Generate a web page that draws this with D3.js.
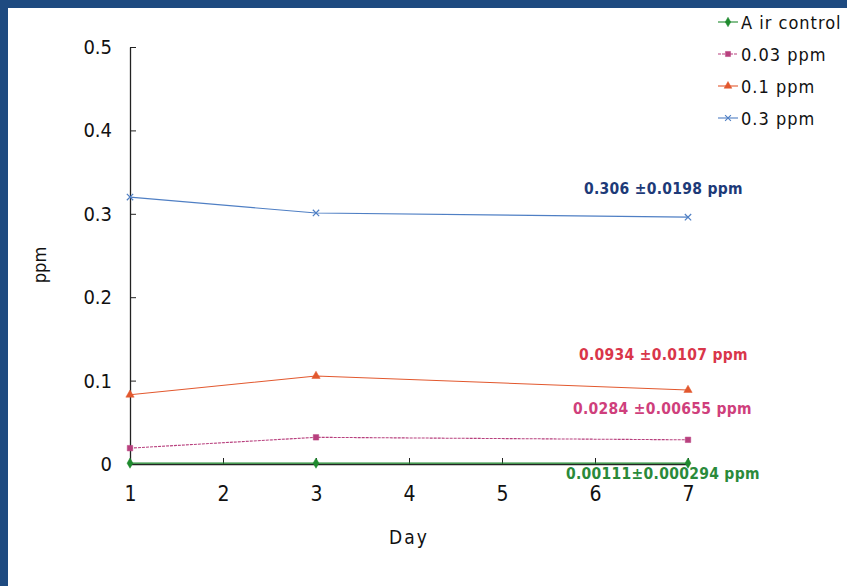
<!DOCTYPE html>
<html>
<head>
<meta charset="utf-8">
<script src="https://cdn.jsdelivr.net/npm/d3@7"></script>
<style>
  body { margin: 0; background: #ffffff; }
  svg { display: block; }
</style>
</head>
<body>
<div id="chart"></div>
<script>
var W = 847, H = 586;

// data
var days = [1, 3, 7];
var airControl = [0.001, 0.001, 0.001];
var ppm003 = [0.019, 0.032, 0.029];
var ppm01 = [0.083, 0.1055, 0.0887];
var ppm03 = [0.320, 0.301, 0.296];
var seriesNames = ["A ir control", "0.03 ppm", "0.1 ppm", "0.3 ppm"];
var xTicks = [1, 2, 3, 4, 5, 6, 7];
var yTicks = [0, 0.1, 0.2, 0.3, 0.4, 0.5];
var notes = ["0.00111\u00b10.000294 ppm", "0.0284 \u00b10.00655 ppm", "0.0934 \u00b10.0107 ppm", "0.306 \u00b10.0198 ppm"];

var colors = ["#1f8a2e", "#b8407e", "#e2582e", "#4f7fc4"];
var noteColors = ["#2a8a3a", "#cf3f7c", "#d9364a", "#1d3a78"];
var noteXY = [[566, 479], [573, 414], [579, 360], [584, 194]];
var markers = [d3.symbolDiamond, d3.symbolSquare, d3.symbolTriangle, d3.symbolTimes];

var margin = { top: 47, left: 130 },
    width = 688 - 130,
    height = 464 - 47;

var svg = d3.select("#chart")
    .append("svg")
    .attr("width", W)
    .attr("height", H);

// blue scanned frame on top and left
svg.append("rect").attr("x", 0).attr("y", 0).attr("width", W).attr("height", 8).attr("fill", "#1e4a80");
svg.append("rect").attr("x", 0).attr("y", 0).attr("width", 8).attr("height", H).attr("fill", "#1e4a80");

var g = svg.append("g")
    .attr("transform", "translate(" + margin.left + "," + margin.top + ")");

var x = d3.scaleLinear().domain([1, 7]).range([0, width]);
var y = d3.scaleLinear().domain([0, 0.5]).range([height, 0]);

var font = "'DejaVu Sans Condensed', sans-serif";

// X axis
var xAxis = g.append("g")
    .attr("transform", "translate(0," + height + ")")
    .call(d3.axisBottom(x).tickValues(xTicks).tickSizeInner(-6).tickSizeOuter(0).tickPadding(22)
        .tickFormat(d3.format("d")));
xAxis.select(".domain").attr("stroke", "#222").attr("stroke-width", 1.3);
xAxis.selectAll("line").attr("stroke", "#222");
xAxis.selectAll("text").attr("font-family", font).attr("font-size", 21).attr("fill", "#111");

// Y axis
var yAxis = g.append("g")
    .call(d3.axisLeft(y).tickValues(yTicks).tickSizeInner(-6).tickSizeOuter(0).tickPadding(18)
        .tickFormat(function (d) { return d === 0 ? "0" : d3.format(".1f")(d); }));
yAxis.select(".domain").attr("stroke", "#222").attr("stroke-width", 1.3);
yAxis.selectAll("line").attr("stroke", "#222");
yAxis.selectAll("text").attr("font-family", font).attr("font-size", 20).attr("fill", "#111");

// axis titles
svg.append("text")
    .attr("x", 409).attr("y", 544)
    .attr("text-anchor", "middle")
    .attr("font-family", font).attr("font-size", 19).attr("letter-spacing", 2).attr("fill", "#111")
    .text("Day");
svg.append("text")
    .attr("transform", "translate(46,265) rotate(-90)")
    .attr("text-anchor", "middle")
    .attr("font-family", font).attr("font-size", 18).attr("fill", "#111")
    .text("ppm");

var allSeries = [airControl, ppm003, ppm01, ppm03];

var line = d3.line()
    .x(function (d, i) { return x(days[i]); })
    .y(function (d) { return y(d); });

allSeries.forEach(function (s, k) {
    g.append("path")
        .datum(s)
        .attr("fill", "none")
        .attr("stroke", colors[k])
        .attr("stroke-width", 1.1)
        .attr("stroke-dasharray", k === 1 ? "3,1" : null)
        .attr("d", line);

    g.selectAll(".m" + k)
        .data(s)
        .enter()
        .append("path")
        .attr("transform", function (d, i) {
            return "translate(" + x(days[i]) + "," + y(d) + ")";
        })
        .attr("d", d3.symbol().type(markers[k]).size(k === 3 ? 28 : 30))
        .attr("fill", k === 3 ? "none" : colors[k])
        .attr("stroke", colors[k])
        .attr("stroke-width", k === 3 ? 1.2 : 0.5);

    svg.append("text")
        .attr("x", noteXY[k][0]).attr("y", noteXY[k][1])
        .attr("font-family", font).attr("font-size", 15.5).attr("font-weight", "bold")
        .attr("letter-spacing", 0.3)
        .attr("fill", noteColors[k])
        .text(notes[k]);
});

// legend
var legend = svg.append("g").attr("transform", "translate(718,22)");
seriesNames.forEach(function (name, k) {
    var row = legend.append("g").attr("transform", "translate(0," + (k * 32) + ")");
    row.append("line")
        .attr("x1", 0).attr("x2", 20).attr("y1", 0).attr("y2", 0)
        .attr("stroke", colors[k]).attr("stroke-width", 1.1)
        .attr("stroke-dasharray", k === 1 ? "3,1" : null);
    row.append("path")
        .attr("transform", "translate(10,0)")
        .attr("d", d3.symbol().type(markers[k]).size(k === 3 ? 24 : 26))
        .attr("fill", k === 3 ? "none" : colors[k])
        .attr("stroke", colors[k])
        .attr("stroke-width", k === 3 ? 1.1 : 0.5);
    row.append("text")
        .attr("x", 23).attr("y", 7)
        .attr("font-family", font).attr("font-size", 18).attr("letter-spacing", 1).attr("fill", "#111")
        .text(name);
});
</script>
</body>
</html>
